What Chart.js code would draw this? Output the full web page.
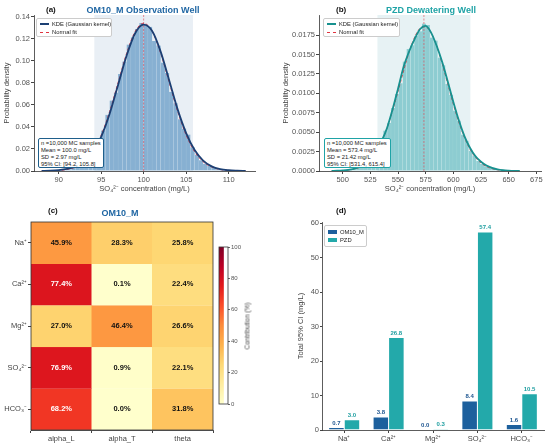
<!DOCTYPE html>
<html>
<head>
<meta charset="utf-8">
<script src="https://cdn.jsdelivr.net/npm/chart.js@4.4.0/dist/chart.umd.min.js"></script>
<style>
  html, body { margin: 0; padding: 0; background: #fff; }
  body { width: 550px; height: 446px; position: relative; overflow: hidden;
         font-family: 'Liberation Sans', Arial, sans-serif; }
  canvas { position: absolute; }
  .tag { position: absolute; font-weight: bold; font-size: 8px; color: #111; white-space: nowrap; }
  .ttl { position: absolute; font-weight: bold; font-size: 9px; white-space: nowrap; transform: translateX(-50%); }
  .box { position: absolute; background: #fff; font-size: 5.8px; line-height: 6.9px; color: #222;
         white-space: nowrap; box-sizing: border-box; border-radius: 2px; padding: 1px 2px; }
  .leg { position: absolute; background: #fff; border: 0.5px solid #ccc; font-size: 5.8px; color: #222;
         white-space: nowrap; box-sizing: border-box; border-radius: 2px; }
  .row { position: absolute; left: 3px; height: 7px; line-height: 7px; }
  .sw { display: inline-block; width: 9px; vertical-align: middle; margin-right: 3px; }
  .cbl { position: absolute; font-size: 6.5px; color: #444; white-space: nowrap;
         transform: translate(-50%, -50%) rotate(-90deg); }
</style>
</head>
<body>
<canvas id="cA" width="275" height="200" style="left:0;top:0"></canvas>
<canvas id="cB" width="275" height="200" style="left:275px;top:0"></canvas>
<canvas id="cC" width="215" height="246" style="left:0;top:200px"></canvas>
<canvas id="cCB" width="63" height="175" style="left:211px;top:240px"></canvas>
<canvas id="cD" width="275" height="246" style="left:275px;top:200px"></canvas>

<div class="tag" style="left:46px;top:5px">(a)</div>
<div class="ttl" style="left:143px;top:5px;color:#1f66a3">OM10_M Observation Well</div>
<div class="tag" style="left:336px;top:5px">(b)</div>
<div class="ttl" style="left:431px;top:5px;color:#1fa3a6">PZD Dewatering Well</div>
<div class="tag" style="left:48px;top:206px">(c)</div>
<div class="ttl" style="left:120px;top:208px;color:#1f66a3">OM10_M</div>
<div class="tag" style="left:336px;top:206px">(d)</div>

<div class="leg" style="left:36px;top:18px;width:76px;height:19px">
  <div class="row" style="top:2px"><span class="sw" style="border-top:2px solid #1c3f73"></span>KDE (Gaussian kernel)</div>
  <div class="row" style="top:10px"><span class="sw" style="border-top:1px dashed #e0343f"></span>Normal fit</div>
</div>
<div class="leg" style="left:323px;top:18px;width:77px;height:19px">
  <div class="row" style="top:2px"><span class="sw" style="border-top:2px solid #17918f"></span>KDE (Gaussian kernel)</div>
  <div class="row" style="top:10px"><span class="sw" style="border-top:1px dashed #e0343f"></span>Normal fit</div>
</div>
<div class="box" id="statsA" style="left:38px;top:138px;width:66px;height:30px;border:1px solid #1f5f8b"></div>
<div class="box" id="statsB" style="left:324px;top:138px;width:67px;height:30px;border:1px solid #1fa3a6"></div>
<div class="leg" style="left:324px;top:225px;width:43px;height:22px">
  <div class="row" style="top:3px"><span class="sw" style="height:4px;background:#1d609d"></span>OM10_M</div>
  <div class="row" style="top:11px"><span class="sw" style="height:4px;background:#23a9aa"></span>PZD</div>
</div>
<div class="cbl" style="left:247px;top:326px">Contribution (%)</div>

<script>
// ---- (a) OM10_M Monte Carlo SO4 histogram ----
const binsA = [89.25, 89.75, 90.25, 90.75, 91.25, 91.75, 92.25, 92.75, 93.25, 93.75,
  94.25, 94.75, 95.25, 95.75, 96.25, 96.75, 97.25, 97.75, 98.25, 98.75,
  99.25, 99.75, 100.25, 100.75, 101.25, 101.75, 102.25, 102.75, 103.25, 103.75,
  104.25, 104.75, 105.25, 105.75, 106.25, 106.75, 107.25, 107.75, 108.25, 108.75,
  109.25, 109.75, 110.25, 110.75];
const histA = [0.0002, 0.0004, 0.0006, 0.0010, 0.0016, 0.0030, 0.0044, 0.0070, 0.0098, 0.0150,
  0.0200, 0.0290, 0.0368, 0.0510, 0.0640, 0.0712, 0.0880, 0.0995, 0.1150, 0.1215,
  0.1290, 0.1345, 0.1330, 0.1310, 0.1180, 0.1140, 0.0985, 0.0890, 0.0720, 0.0615,
  0.0470, 0.0385, 0.0330, 0.0215, 0.0150, 0.0098, 0.0066, 0.0046, 0.0030, 0.0016,
  0.0010, 0.0006, 0.0004, 0.0002];
const curveXA = [88, 89, 90, 91, 92, 93, 94, 95, 96, 97, 98, 99, 100, 101, 102, 103, 104, 105, 106, 107, 108, 109, 110, 111, 112];
const kdeA = [0.0001, 0.0003, 0.0008, 0.0019, 0.0042, 0.0089, 0.0170, 0.0310, 0.0520, 0.0785, 0.1050, 0.1252, 0.1330,
  0.1272, 0.1085, 0.0825, 0.0560, 0.0345, 0.0190, 0.0095, 0.0042, 0.0017, 0.0007, 0.0003, 0.0001];
const normA = [0.00003, 0.00011, 0.00046, 0.00136, 0.00357, 0.00835, 0.01746, 0.03256, 0.0542, 0.0806, 0.1071, 0.1269, 0.1343,
  0.1269, 0.1071, 0.0806, 0.0542, 0.03256, 0.01746, 0.00835, 0.00357, 0.00136, 0.00046, 0.00011, 0.00003];
const meanA = 100.0;
const ciA = [94.2, 105.8];
const xTicksA = [90, 95, 100, 105, 110];
const yTicksA = [0, 0.02, 0.04, 0.06, 0.08, 0.10, 0.12, 0.14];
const statsA = ['n =10,000 MC samples', 'Mean = 100.0 mg/L', 'SD = 2.97 mg/L', '95% CI: [94.2, 105.8]'];

// ---- (b) PZD Monte Carlo SO4 histogram ----
const binsB = [500, 503.5, 507, 510.5, 514, 517.5, 521, 524.5, 528, 531.5, 535, 538.5, 542, 545.5, 549,
  552.5, 556, 559.5, 563, 566.5, 570, 573.5, 577, 580.5, 584, 587.5, 591, 594.5, 598, 601.5,
  605, 608.5, 612, 615.5, 619, 622.5, 626, 629.5, 633, 636.5, 640, 643.5, 647, 650.5];
const histB = [0.00005, 0.0001, 0.00015, 0.00025, 0.0004, 0.0006, 0.0009, 0.0014, 0.0019, 0.0029, 0.0036, 0.0052, 0.0062, 0.0081, 0.0099,
  0.0113, 0.0141, 0.0157, 0.0162, 0.0174, 0.0180, 0.0190, 0.0188, 0.0172, 0.0168, 0.0146, 0.0136, 0.0112, 0.0098, 0.0078,
  0.0065, 0.0047, 0.0039, 0.0026, 0.0020, 0.0013, 0.0009, 0.0006, 0.0004, 0.00025, 0.00015, 0.0001, 0.00005, 0.00003];
const curveXB = [490, 495, 500, 505, 510, 515, 520, 525, 530, 535, 540, 545, 550, 555, 560, 565, 570, 575,
  580, 585, 590, 595, 600, 605, 610, 615, 620, 625, 630, 635, 640, 645, 650, 655, 660];
const kdeB = [0.00001, 0.00003, 0.00007, 0.00014, 0.00028, 0.00052, 0.0009, 0.0015, 0.0025, 0.0038, 0.0055, 0.0079,
  0.0106, 0.0134, 0.0154, 0.0170, 0.0183, 0.0187, 0.0178, 0.0161, 0.0140, 0.0115, 0.0089, 0.0065, 0.0045,
  0.0030, 0.0019, 0.0012, 0.0007, 0.0004, 0.0002, 0.0001, 0.00005, 0.00002, 0.00001];
const normB = [0.00001, 0.00002, 0.00005, 0.00011, 0.00023, 0.00045, 0.00083, 0.00145, 0.00239, 0.00373, 0.00552, 0.00773,
  0.01025, 0.01287, 0.01531, 0.01724, 0.01839, 0.01857, 0.01776, 0.01608, 0.01379, 0.0112, 0.00861, 0.00627, 0.00433,
  0.00282, 0.00175, 0.00102, 0.00057, 0.0003, 0.00015, 0.00007, 0.00003, 0.00001, 0.000005];
const meanB = 573.4;
const ciB = [531.4, 615.4];
const xTicksB = [500, 525, 550, 575, 600, 625, 650, 675];
const yTicksB = [0, 0.0025, 0.0050, 0.0075, 0.0100, 0.0125, 0.0150, 0.0175];
const statsB = ['n =10,000 MC samples', 'Mean = 573.4 mg/L', 'SD = 21.42 mg/L', '95% CI: [531.4, 615.4]'];

// ---- (c) variance contribution (%) for OM10_M ----
const ions = ['Na⁺', 'Ca²⁺', 'Mg²⁺', 'SO₄²⁻', 'HCO₃⁻'];
const params = ['alpha_L', 'alpha_T', 'theta'];
const contribNa = [45.9, 28.3, 25.8];
const contribCa = [77.4, 0.1, 22.4];
const contribMg = [27.0, 46.4, 26.6];
const contribSO4 = [76.9, 0.9, 22.1];
const contribHCO3 = [68.2, 0.0, 31.8];
const contribRows = [contribNa, contribCa, contribMg, contribSO4, contribHCO3];
const cbTicks = [0, 20, 40, 60, 80, 100];

// ---- (d) total 95% CI width (mg/L) ----
const ciOM10 = [0.7, 3.8, 0.0, 8.4, 1.6];
const ciPZD = [3.0, 26.8, 0.3, 57.4, 10.5];
const yTicksD = [0, 10, 20, 30, 40, 50, 60];

Chart.defaults.font.family = "'Liberation Sans', Arial, sans-serif";
Chart.defaults.font.size = 7.5;
Chart.defaults.color = '#555';
Chart.defaults.animation = false;
Chart.defaults.plugins.legend.display = false;
Chart.defaults.plugins.tooltip.enabled = false;

document.getElementById('statsA').innerHTML = statsA.join('<br>');
document.getElementById('statsB').innerHTML = statsB.join('<br>');

// CI band behind the bars, mean line drawn over them
const bandPlugin = {
    id: 'band',
    beforeDatasetsDraw(chart, args, o) {
        const { ctx, chartArea: a, scales: { x } } = chart;
        const x0 = x.getPixelForValue(o.range[0]);
        const x1 = x.getPixelForValue(o.range[1]);
        ctx.save();
        ctx.fillStyle = o.color;
        ctx.fillRect(x0, a.top, x1 - x0, a.bottom - a.top);
        ctx.restore();
    },
    afterDatasetDraw(chart, args, o) {
        if (args.index !== 3) return;
        const { ctx, chartArea: a, scales: { x } } = chart;
        const xm = x.getPixelForValue(o.mean);
        ctx.save();
        ctx.strokeStyle = 'rgba(228,60,72,0.85)';
        ctx.lineWidth = 0.7;
        ctx.setLineDash([2, 1.5]);
        ctx.beginPath();
        ctx.moveTo(xm, a.top);
        ctx.lineTo(xm, a.bottom);
        ctx.stroke();
        ctx.restore();
    }
};

const axisLine = { color: '#333', width: 0.8 };

function histChart(id, c) {
    const pts = (xs, ys) => xs.map((x, i) => ({ x: x, y: ys[i] }));
    return new Chart(document.getElementById(id), {
        type: 'bar',
        data: {
            datasets: [
                { type: 'line', data: pts(c.curveX, c.kde), borderColor: c.kdeColor, borderWidth: 1.8,
                  pointRadius: 0, cubicInterpolationMode: 'monotone' },
                { type: 'line', data: pts(c.curveX, c.norm), borderColor: '#e0343f', borderWidth: 0.9,
                  borderDash: [3, 2], pointRadius: 0, cubicInterpolationMode: 'monotone' },
                { type: 'line', data: [], pointRadius: 0 },
                { type: 'bar', data: pts(c.bins, c.hist), backgroundColor: c.barColor,
                  borderColor: 'rgba(255,255,255,0.55)', borderWidth: 0.25, borderSkipped: 'bottom',
                  barPercentage: 1, categoryPercentage: 1, grouped: false }
            ]
        },
        options: {
            responsive: false,
            layout: { padding: c.padding },
            plugins: { band: { range: c.ci, color: c.bandColor, mean: c.mean } },
            scales: {
                x: {
                    type: 'linear', min: c.xMin, max: c.xMax, offset: false,
                    grid: { drawOnChartArea: false, tickLength: 3, color: '#444', offset: false },
                    border: axisLine,
                    ticks: { padding: 1, callback: v => String(v) },
                    afterBuildTicks: s => { s.ticks = c.xTicks.map(v => ({ value: v })); },
                    afterFit: s => { s.height = 29; },
                    title: { display: true, text: 'SO₄²⁻ concentration (mg/L)', color: '#444',
                             padding: { top: 0, bottom: 7 } }
                },
                y: {
                    min: 0, max: c.yMax,
                    grid: { drawOnChartArea: false, tickLength: 3, color: '#444' },
                    border: axisLine,
                    ticks: { padding: 1, callback: v => v.toFixed(c.yDec) },
                    afterBuildTicks: s => { s.ticks = c.yTicks.map(v => ({ value: v })); },
                    afterFit: s => { s.width = c.yWidth; },
                    title: { display: true, text: 'Probability density', color: '#444', padding: { top: 2, bottom: 2 } }
                }
            }
        },
        plugins: [bandPlugin]
    });
}

histChart('cA', {
    bins: binsA, hist: histA, curveX: curveXA, kde: kdeA, norm: normA, ci: ciA, mean: meanA,
    xTicks: xTicksA, yTicks: yTicksA, xMin: 87.1, xMax: 113.1, yMax: 0.1418, yDec: 2,
    kdeColor: '#1c3f73', barColor: 'rgba(118,164,203,0.85)', bandColor: '#e9eff5',
    padding: { top: 15, right: 20, left: 0, bottom: 0 }, yWidth: 34
});

histChart('cB', {
    bins: binsB, hist: histB, curveX: curveXB, kde: kdeB, norm: normB, ci: ciB, mean: meanB,
    xTicks: xTicksB, yTicks: yTicksB, xMin: 478.6, xMax: 679.2, yMax: 0.0201, yDec: 4,
    kdeColor: '#17918f', barColor: 'rgba(124,198,202,0.85)', bandColor: '#e7f2f4',
    padding: { top: 15, right: 9, left: 4, bottom: 0 }, yWidth: 40
});

// ---- heatmap (c) ----
const ylOrRd = [[255, 255, 204], [255, 237, 160], [254, 217, 118], [254, 178, 76], [253, 141, 60],
    [252, 78, 42], [227, 26, 28], [189, 0, 38], [128, 0, 38]];
function cmap(t) {
    t = Math.max(0, Math.min(1, t));
    const p = t * 8, i = Math.min(7, Math.floor(p)), f = p - i;
    const a = ylOrRd[i], b = ylOrRd[i + 1];
    const m = k => Math.round(a[k] + (b[k] - a[k]) * f);
    return `rgb(${m(0)},${m(1)},${m(2)})`;
}

const framePlugin = {
    id: 'frame',
    afterDatasetsDraw(chart) {
        const { ctx, chartArea: a } = chart;
        ctx.save();
        ctx.strokeStyle = '#333';
        ctx.lineWidth = 0.8;
        ctx.strokeRect(a.left, a.top, a.right - a.left, a.bottom - a.top);
        ctx.restore();
    }
};

const cellLabels = {
    id: 'cellLabels',
    afterDatasetsDraw(chart) {
        const { ctx } = chart;
        ctx.save();
        ctx.font = "bold 7.5px 'Liberation Sans', Arial, sans-serif";
        ctx.textAlign = 'center';
        ctx.textBaseline = 'middle';
        chart.data.datasets.forEach((ds, r) => {
            chart.getDatasetMeta(r).data.forEach((bar, i) => {
                const v = contribRows[r][i];
                ctx.fillStyle = v > 60 ? '#fff' : '#111';
                ctx.fillText(v.toFixed(1) + '%', bar.x, (bar.y + bar.base) / 2);
            });
        });
        ctx.restore();
    }
};

new Chart(document.getElementById('cC'), {
    type: 'bar',
    data: {
        labels: params,
        datasets: contribRows.map(row => ({
            data: row.map(() => 1),
            backgroundColor: row.map(v => cmap(v / 100)),
            borderColor: row.map(v => cmap(v / 100)),
            borderWidth: 0.5,
            barPercentage: 1, categoryPercentage: 1
        }))
    },
    options: {
        responsive: false,
        layout: { padding: { top: 22, right: 2, left: 0, bottom: 0 } },
        scales: {
            x: {
                stacked: true,
                grid: { drawOnChartArea: false, tickLength: 3, color: '#444' },
                border: axisLine,
                ticks: { padding: 1, color: '#444' },
                afterFit: s => { s.height = 16; }
            },
            y: {
                stacked: true, reverse: true, min: 0, max: ions.length,
                grid: { drawOnChartArea: false, tickLength: 3, color: '#444' },
                border: axisLine,
                ticks: { padding: 1, color: '#444', callback: (v, i) => ions[i] },
                afterBuildTicks: s => { s.ticks = ions.map((_, i) => ({ value: i + 0.5 })); },
                afterFit: s => { s.width = 31; }
            }
        }
    },
    plugins: [cellLabels, framePlugin]
});

// colour bar
new Chart(document.getElementById('cCB'), {
    type: 'bar',
    data: {
        labels: [''],
        datasets: [{
            data: [[cbTicks[0], cbTicks[cbTicks.length - 1]]],
            backgroundColor: ctx => {
                const a = ctx.chart.chartArea;
                if (!a) return '#fff';
                const g = ctx.chart.ctx.createLinearGradient(0, a.bottom, 0, a.top);
                ylOrRd.forEach((c, i) => g.addColorStop(i / 8, `rgb(${c[0]},${c[1]},${c[2]})`));
                return g;
            },
            borderWidth: 0, barPercentage: 1, categoryPercentage: 1
        }]
    },
    options: {
        responsive: false,
        layout: { padding: { top: 7, left: 8, bottom: 11, right: 0 } },
        scales: {
            x: { display: false, offset: false },
            y: {
                position: 'right', min: 0, max: 100,
                grid: { drawOnChartArea: false, tickLength: 2, color: '#666' },
                border: { display: false },
                ticks: { padding: 1, font: { size: 6 }, color: '#555' },
                afterBuildTicks: s => { s.ticks = cbTicks.map(v => ({ value: v })); },
                afterFit: s => { s.width = 46; }
            }
        }
    },
    plugins: [framePlugin]
});

// ---- grouped bars (d) ----
const barLabels = {
    id: 'barLabels',
    afterDatasetsDraw(chart) {
        const { ctx } = chart;
        ctx.save();
        ctx.font = "bold 6px 'Liberation Sans', Arial, sans-serif";
        ctx.textAlign = 'center';
        ctx.textBaseline = 'bottom';
        chart.data.datasets.forEach((ds, d) => {
            chart.getDatasetMeta(d).data.forEach((bar, i) => {
                ctx.fillStyle = ds.labelColor;
                ctx.fillText(ds.data[i].toFixed(1), bar.x, bar.y - 1.5);
            });
        });
        ctx.restore();
    }
};

new Chart(document.getElementById('cD'), {
    type: 'bar',
    data: {
        labels: ions,
        datasets: [
            { label: 'OM10_M', data: ciOM10, backgroundColor: '#1d609d', labelColor: '#1d5590',
              borderColor: 'rgba(255,255,255,0.6)', borderWidth: 0.5, barPercentage: 1, categoryPercentage: 0.7 },
            { label: 'PZD', data: ciPZD, backgroundColor: '#23a9aa', labelColor: '#1e9ea0',
              borderColor: 'rgba(255,255,255,0.6)', borderWidth: 0.5, barPercentage: 1, categoryPercentage: 0.7 }
        ]
    },
    options: {
        responsive: false,
        layout: { padding: { top: 22, right: 6, left: 17, bottom: 0 } },
        scales: {
            x: {
                grid: { drawOnChartArea: false, tickLength: 3, color: '#444', offset: false },
                border: axisLine,
                ticks: { padding: 1, color: '#444' },
                afterFit: s => { s.height = 16; }
            },
            y: {
                min: 0, max: 60.3,
                grid: { drawOnChartArea: false, tickLength: 2, color: '#444' },
                border: axisLine,
                ticks: { padding: 1, color: '#555' },
                afterBuildTicks: s => { s.ticks = yTicksD.map(v => ({ value: v })); },
                afterFit: s => { s.width = 30; },
                title: { display: true, text: 'Total 95% CI (mg/L)', color: '#444', padding: { top: 4, bottom: 2 } }
            }
        }
    },
    plugins: [barLabels]
});
</script>
</body>
</html>
